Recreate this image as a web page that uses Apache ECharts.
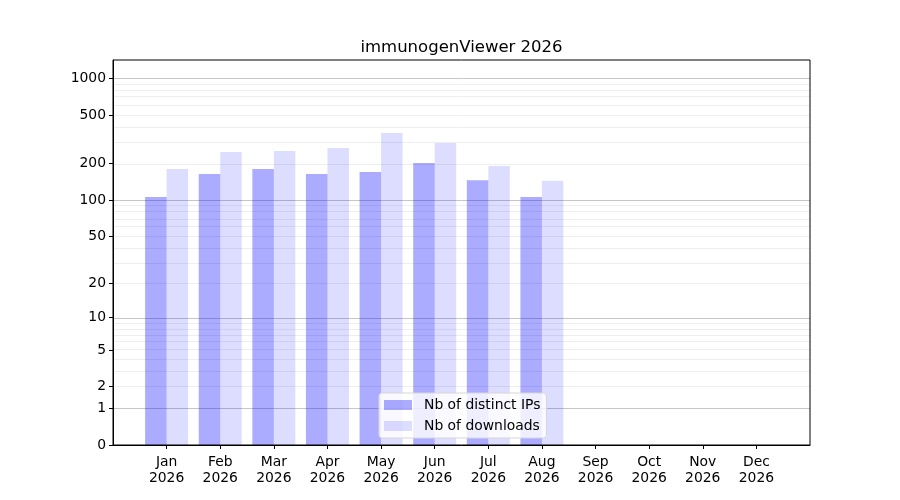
<!DOCTYPE html>
<html>
<head>
<meta charset="utf-8">
<title>immunogenViewer 2026</title>
<script src="https://cdn.jsdelivr.net/npm/echarts@6/dist/echarts.min.js"></script>
<style>
  html, body { margin: 0; padding: 0; background: #fff; }
  #chart { width: 900px; height: 500px; }
</style>
</head>
<body>
<div id="chart"></div>
<script>
// Data
var year = '2026';
var months = ['Jan', 'Feb', 'Mar', 'Apr', 'May', 'Jun', 'Jul', 'Aug', 'Sep', 'Oct', 'Nov', 'Dec'];
var distinctIps = [106, 164, 180, 164, 170, 202, 146, 106];
var downloads = [180, 249, 254, 268, 356, 295, 191, 144];

// Tick labels and grid lines of the log(1 + x) axis
var yTicks = [0, 1, 2, 5, 10, 20, 50, 100, 200, 500, 1000];
var majorGrid = [1, 10, 100, 1000];
var minorGrid = [2, 3, 4, 5, 6, 7, 8, 9, 20, 30, 40, 50, 60, 70, 80, 90, 200, 300, 400, 500, 600, 700, 800, 900];
var yTop = 1413;

var fwd = function(v) { return Math.log10(1 + v); };

// Empty slot at both ends, like the padded x range of the original
var categories = [''].concat(months.map(function(m) { return m + '\n' + year; }), ['']);
var padSeries = function(vals) {
    var out = [null];
    for (var i = 0; i < months.length; i++) {
        out.push(i < vals.length ? fwd(vals[i]) : null);
    }
    out.push(null);
    return out;
};

var gridLines = majorGrid.map(function(v) {
    return { yAxis: fwd(v), lineStyle: { color: '#c6c6c6', width: 1, type: 'solid' } };
}).concat(minorGrid.map(function(v) {
    return { yAxis: fwd(v), lineStyle: { color: '#eeeeee', width: 1, type: 'solid' } };
}));

var chart = echarts.init(document.getElementById('chart'), null, { renderer: 'canvas' });
chart.setOption({
    animation: false,
    textStyle: { fontFamily: 'DejaVu Sans, sans-serif' },

    title: {
        text: 'immunogenViewer 2026',
        left: 456.5,
        top: 34,
        textAlign: 'center',
        textStyle: { fontSize: 16.5, fontWeight: 'normal', color: '#000', fontFamily: 'DejaVu Sans' }
    },

    // frame drawn above the grid lines
    grid: {
        left: 113,
        right: 90,
        top: 60,
        bottom: 55,
        z: 10,
        show: true,
        borderColor: '#000',
        borderWidth: 1,
        backgroundColor: 'transparent'
    },

    legend: {
        data: ['Nb of distinct IPs', 'Nb of downloads'],
        orient: 'vertical',
        left: 379,
        top: 393,
        z: 12,
        padding: [5, 6, 5, 5],
        itemWidth: 28,
        itemHeight: 10,
        itemGap: 7,
        icon: 'rect',
        borderColor: '#d6d6d6',
        borderWidth: 1,
        borderRadius: 3,
        backgroundColor: 'rgba(255,255,255,0.8)',
        textStyle: { fontSize: 13.9, color: '#000', fontFamily: 'DejaVu Sans', padding: [0, 0, 0, 7] }
    },

    xAxis: {
        type: 'category',
        data: categories,
        boundaryGap: false,
        z: 10,
        axisLine: { lineStyle: { color: '#000', width: 1 } },
        axisTick: {
            length: 4,
            lineStyle: { color: '#000' },
            interval: function(i, v) { return v !== ''; }
        },
        axisLabel: {
            interval: 0,
            margin: 9,
            color: '#000',
            fontSize: 13.9,
            lineHeight: 16,
            fontFamily: 'DejaVu Sans'
        },
        splitLine: { show: false }
    },

    yAxis: {
        type: 'value',
        min: 0,
        max: fwd(yTop),
        z: 10,
        axisLine: { show: true, lineStyle: { color: '#000', width: 1 } },
        axisTick: {
            show: true,
            length: 4,
            lineStyle: { color: '#000' },
            customValues: yTicks.map(fwd)
        },
        axisLabel: {
            margin: 7,
            color: '#000',
            fontSize: 13.9,
            fontFamily: 'DejaVu Sans',
            customValues: yTicks.map(fwd),
            formatter: function(v) { return String(Math.round(Math.pow(10, v) - 1)); }
        },
        splitLine: { show: false }
    },

    series: [
        {
            name: 'Nb of distinct IPs',
            type: 'bar',
            data: padSeries(distinctIps),
            barWidth: 21.5,
            barGap: '0%',
            itemStyle: { color: 'rgba(0,0,255,0.33)' },
            markLine: {
                silent: true,
                z: 1,
                symbol: ['none', 'none'],
                label: { show: false },
                emphasis: { disabled: true },
                data: gridLines
            }
        },
        {
            name: 'Nb of downloads',
            type: 'bar',
            data: padSeries(downloads),
            barWidth: 21.5,
            barGap: '0%',
            itemStyle: { color: 'rgba(0,0,255,0.135)' }
        }
    ]
});
</script>
</body>
</html>
